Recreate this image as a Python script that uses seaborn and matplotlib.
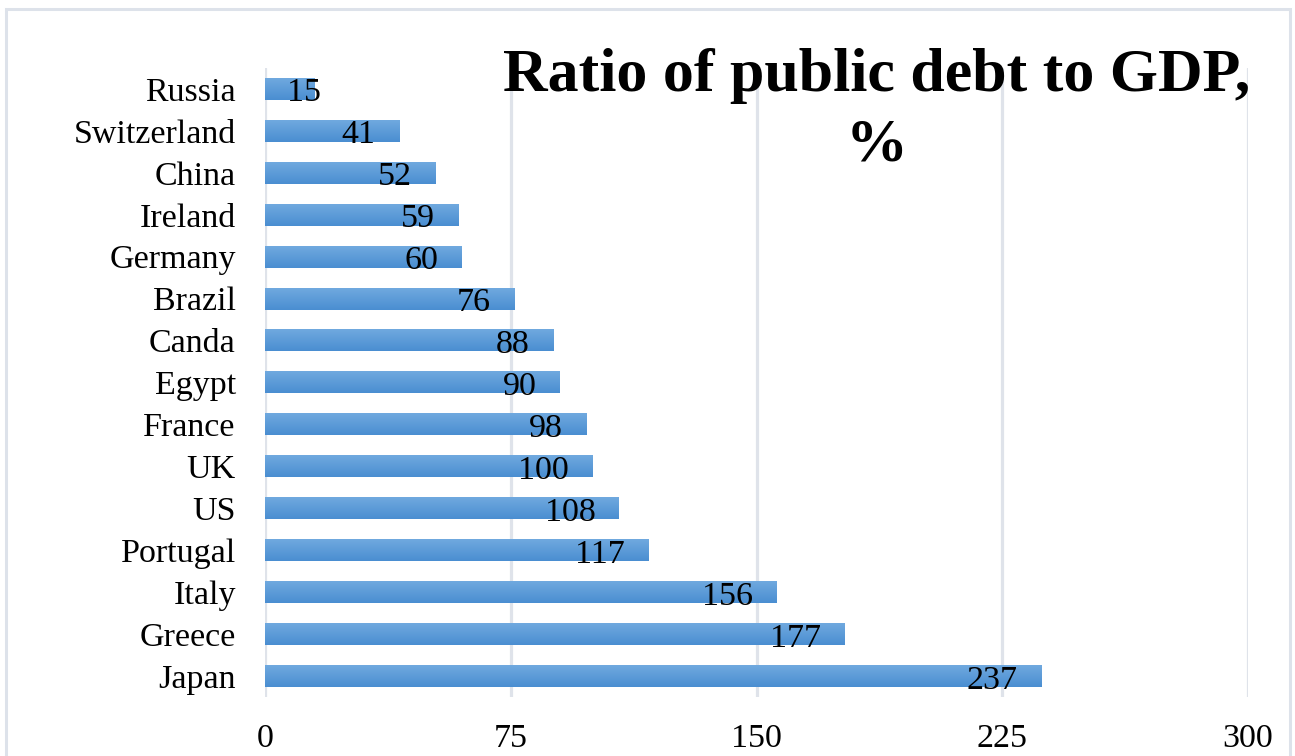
import numpy as np
import pandas as pd
import seaborn as sns
import matplotlib.pyplot as plt
from matplotlib.colors import LinearSegmentedColormap
from matplotlib.patches import Rectangle

# Data
countries = ["Russia", "Switzerland", "China", "Ireland", "Germany", "Brazil", "Canda",
             "Egypt", "France", "UK", "US", "Portugal", "Italy", "Greece", "Japan"]
debt_ratio = [15, 41, 52, 59, 60, 76, 88, 90, 98, 100, 108, 117, 156, 177, 237]
x_ticks = [0, 75, 150, 225, 300]

df = pd.DataFrame({"country": countries, "ratio": debt_ratio})

sns.set_style("white")
plt.rcParams['font.family'] = ['Liberation Serif', 'DejaVu Serif']
plt.rcParams['text.color'] = 'black'

fig = plt.figure(figsize=(12.95, 7.56), dpi=100)
ax = fig.add_axes([265 / 1295, 1 - 697 / 756, 983 / 1295, 629 / 756])

sns.barplot(data=df, x="ratio", y="country", orient="h", color="#5b9bd5",
            width=0.52, ax=ax, zorder=3)

# gradient fill on each bar, light on top, darker at bottom
grad = LinearSegmentedColormap.from_list("bar", ["#70a9df", "#4a8ed1"])
g = np.linspace(0, 1, 64).reshape(-1, 1)
for patch in ax.patches:
    bb = patch.get_bbox()
    ax.imshow(g, cmap=grad, aspect="auto", origin="upper", interpolation="bilinear",
              extent=(bb.x0, bb.x1, max(bb.y0, bb.y1), min(bb.y0, bb.y1)),
              clip_path=patch, zorder=3)
    patch.set_facecolor("none")
    patch.set_edgecolor("none")

# value labels, inside end of bar
for i, v in enumerate(debt_ratio):
    if v < 25:
        ax.annotate(str(v), xy=(0, i), xytext=(16, -9), textcoords="offset points",
                    ha="left", va="baseline", fontsize=24.5, color="black", zorder=5)
    else:
        ax.annotate(str(v), xy=(v, i), xytext=(-17, -9), textcoords="offset points",
                    ha="right", va="baseline", fontsize=24.5, color="black", zorder=5)

ax.set_xlim(0, 300)
ax.set_ylim(14.5, -0.5)
ax.set_xticks(x_ticks)
ax.set_xticklabels([str(t) for t in x_ticks])
ax.xaxis.grid(True, color="#dfe3ea", linewidth=2.3, zorder=0)
ax.set_axisbelow(True)
ax.tick_params(axis="both", length=0, labelsize=24.5, colors="black")
ax.tick_params(axis="y", pad=21)
ax.tick_params(axis="x", pad=19)
ax.set_xlabel("")
ax.set_ylabel("")
for s in ax.spines.values():
    s.set_visible(False)

fig.text(877 / 1295, 1 - 48 / 756, "Ratio of public debt to GDP,\n%", ha="center", va="top",
         fontsize=44.6, fontweight="bold", linespacing=1.32, color="black")

# outer chart border
fig.patches.append(Rectangle((6 / 1295, -0.05), 1284 / 1295, 1.05 - 9 / 756,
                             transform=fig.transFigure, fill=False,
                             edgecolor="#dde2ea", linewidth=2.2))

fig.savefig("out.png", dpi=100)
